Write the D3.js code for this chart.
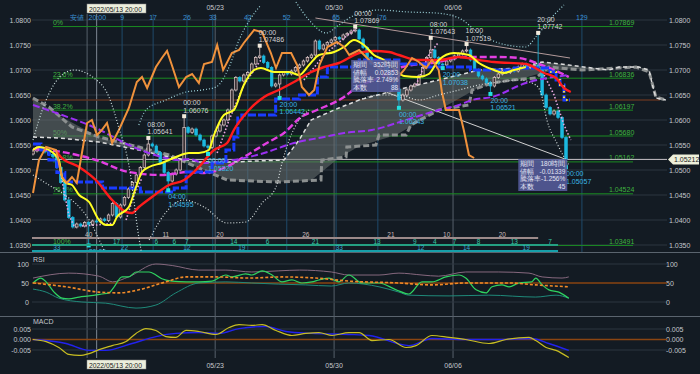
<!DOCTYPE html>
<html>
<head>
<meta charset="utf-8">
<script src="https://cdn.jsdelivr.net/npm/d3@7"></script>
<style>
  body { margin: 0; background: #131b23; }
  svg { display: block; font-family: "Liberation Sans", Arial, sans-serif; }
</style>
</head>
<body>
<svg id="chart" width="700" height="374"></svg>
<script>
// ---- data (candle index, price) ----
const closes = [
  1.0538,1.0545,1.0541,1.0536,1.0531,1.0527,1.0505,1.0475,1.0440,1.0405,
  1.0386,1.0392,1.0388,1.0395,1.0391,1.0398,1.0396,1.0402,1.0399,1.0410,
  1.0433,1.0406,1.0430,1.0445,1.0462,1.0475,1.0490,1.0505,1.0530,1.0552,
  1.0548,1.0535,1.0515,1.0495,1.0478,1.0492,1.0500,1.0520,1.0585,1.0575,
  1.0582,1.0570,1.0560,1.0548,1.0545,1.0568,1.0578,1.0590,1.0600,1.0620,
  1.0660,1.0685,1.0678,1.0690,1.0695,1.0712,1.0725,1.0728,1.0715,1.0705,
  1.0668,1.0672,1.0690,1.0695,1.0692,1.0698,1.0705,1.0710,1.0718,1.0725,
  1.0730,1.0758,1.0742,1.0750,1.0755,1.0760,1.0765,1.0762,1.0770,1.0773,
  1.0778,1.0780,1.0762,1.0745,1.0725,1.0712,1.0708,1.0700,1.0705,1.0695,
  1.0680,1.0662,1.0640,1.0650,1.0660,1.0668,1.0672,1.0688,1.0705,1.0725,
  1.0740,1.0725,1.0712,1.0710,1.0718,1.0722,1.0728,1.0732,1.0738,1.0740,
  1.0720,1.0700,1.0688,1.0682,1.0675,1.0668,1.0685,1.0692,1.0698,1.0695,
  1.0700,1.0698,1.0706,1.0712,1.0705,1.0708,1.0710,1.0705,1.0650,1.0625,
  1.0612,1.0618,1.0605,1.0565,1.0521
];
const firstOpen = 1.0532;
const lastPrice = 1.05212;

// labelled swing highs / lows
const swings = [
  {i:14, kind:"L", time:"20:00", p:1.03491},
  {i:29, kind:"H", time:"08:00", p:1.05641},
  {i:34, kind:"L", time:"04:00", p:1.04595},
  {i:38, kind:"H", time:"00:00", p:1.06076},
  {i:44, kind:"L", time:"00:00", p:1.05320},
  {i:57, kind:"H", time:"00:00", p:1.07486},
  {i:62, kind:"L", time:"20:00", p:1.06442},
  {i:81, kind:"H", time:"00:00", p:1.07869},
  {i:92, kind:"L", time:"00:00", p:1.06243},
  {i:100, kind:"H", time:"08:00", p:1.07643},
  {i:103, kind:"L", time:"20:00", p:1.07038},
  {i:109, kind:"H", time:"16:00", p:1.07519},
  {i:115, kind:"L", time:"20:00", p:1.06521},
  {i:127, kind:"H", time:"20:00", p:1.07742},
  {i:134, kind:"L", time:"00:00", p:1.05057}
];

const yellowMA = [[0,1.0540],[1.5,1.0546],[4,1.0540],[6.5,1.0520],[7.3,1.0486],[8.3,1.0474],[9.8,1.0470],[11.6,1.0450],[14.1,1.0436],[16.6,1.0400],[18.4,1.0390],[19.9,1.0390],[21.1,1.0406],[24.1,1.0426],[25.9,1.0466],[27.4,1.0496],[29.2,1.0506],[32.4,1.0514],[35.9,1.0526],[39.2,1.0534],[41.7,1.0534],[44.2,1.0540],[45.5,1.0570],[48,1.0610],[50.5,1.0620],[53,1.0670],[55.6,1.0700],[57.3,1.0704],[60.6,1.0696],[64.4,1.0696],[66.9,1.0690],[69.4,1.0710],[71.9,1.0730],[75.7,1.0736],[78.2,1.0746],[80.7,1.0760],[83.2,1.0750],[85.7,1.0730],[88.2,1.0720],[90.7,1.0704],[93.3,1.0688],[97,1.0686],[99.5,1.0692],[102,1.0720],[105.8,1.0734],[109.6,1.0730],[112.1,1.0714],[115.9,1.0700],[118.4,1.0694],[120.9,1.0700],[123.9,1.0706]];
const redMA = [[6,1.0536],[7,1.0526],[11.6,1.0506],[15.8,1.0480],[19.9,1.0440],[23.4,1.0416],[24.9,1.0414],[26.6,1.0426],[29.9,1.0446],[34.2,1.0470],[38,1.0480],[41.7,1.0506],[45.5,1.0540],[48.8,1.0554],[50.5,1.0580],[54.3,1.0620],[58.1,1.0646],[61.8,1.0660],[65.6,1.0676],[69.4,1.0694],[73.2,1.0706],[76.9,1.0714],[82,1.0734],[85.7,1.0738],[89.5,1.0736],[92,1.0730],[97,1.0720],[102,1.0720],[107.1,1.0726],[112.1,1.0720],[115.9,1.0716],[123.9,1.0712],[128.5,1.0694],[131.5,1.0684],[133.5,1.0664],[135.2,1.0656]];
const magentaMA = [[0,1.0542],[7.3,1.0536],[15.8,1.0520],[24.1,1.0496],[32.4,1.0490],[39.2,1.0496],[43,1.0494],[48,1.0504],[53,1.0526],[58.8,1.0554],[63.1,1.0574],[67.4,1.0606],[71.4,1.0620],[78.2,1.0646],[81.2,1.0664],[87,1.0684],[92.8,1.0706],[102,1.0716],[107.8,1.0726],[117.1,1.0726],[122.2,1.0724],[127.2,1.0712],[131,1.0700],[134.7,1.0686]];
const purpleMA = [[0,1.0630],[7.3,1.0610],[15.8,1.0584],[24.1,1.0550],[28.4,1.0536],[32.4,1.0526],[36.7,1.0520],[39.2,1.0522],[43,1.0514],[50.5,1.0520],[58.1,1.0534],[65.6,1.0554],[73.2,1.0566],[78.2,1.0574],[85.2,1.0580],[93.8,1.0600],[102,1.0620],[107.1,1.0630],[110.4,1.0640],[115.4,1.0646],[123.9,1.0674],[134.7,1.0690]];
const blueBase = [[0,1.0552],[2,1.0540],[4,1.0520],[6,1.0495],[8,1.0476],[17.5,1.0464],[27,1.0456],[35.5,1.0464],[38.5,1.0496],[45,1.0514],[48.5,1.0540],[50.5,1.0566],[51.5,1.0604],[52.5,1.0610],[61,1.0642],[67,1.0650],[71.5,1.0686],[74,1.0706],[82,1.0720],[92,1.0712],[99.5,1.0706],[110,1.0700],[121,1.0704],[130,1.0696],[131.5,1.0680],[132.5,1.0670],[133.5,1.0640],[135,1.0640]];
const lagging = [[0,1.0454],[0.8,1.0490],[1.5,1.0520],[3.3,1.0546],[5.8,1.0540],[7.3,1.0486],[8.5,1.0474],[9.8,1.0486],[11,1.0474],[12.3,1.0534],[13.6,1.0594],[14.8,1.0600],[16.1,1.0570],[17.3,1.0580],[18.6,1.0594],[19.9,1.0554],[21.6,1.0580],[24.1,1.0624],[26.1,1.0676],[27.4,1.0686],[28.7,1.0664],[30.9,1.0706],[32.4,1.0724],[33.7,1.0738],[34.9,1.0710],[36.7,1.0666],[38.5,1.0686],[40,1.0692],[41.7,1.0674],[43,1.0712],[45,1.0716],[46.3,1.0750],[47.8,1.0700],[50,1.0734],[51.8,1.0740],[53,1.0754],[55.6,1.0780],[57.6,1.0776],[59.8,1.0734],[61.1,1.0704],[62.6,1.0734],[64.9,1.0734],[66.4,1.0710],[67.6,1.0666],[69.4,1.0650],[70.7,1.0660],[72,1.0710],[74,1.0746],[76.4,1.0756],[78.2,1.0746],[79.5,1.0730],[82,1.0740],[85,1.0716],[88.2,1.0696],[90.7,1.0676],[93.3,1.0700],[95.3,1.0724],[97,1.0716],[98.8,1.0704],[100.3,1.0720],[102,1.0700],[102.8,1.0656],[103.8,1.0620],[107.1,1.0620],[108.3,1.0580],[109.6,1.0530],[110.9,1.0524]];
const spanA = [[0,1.0566],[6.5,1.0564],[16.6,1.0556],[26.6,1.0540],[34.2,1.0526],[41.7,1.0516],[49.8,1.0516],[63.1,1.0520],[66.9,1.0560],[69.9,1.0600],[76.9,1.0624],[82,1.0640],[91.3,1.0660],[102,1.0680],[112.1,1.0700],[122.2,1.0704],[128,1.0716],[134.7,1.0710],[140.5,1.0704],[144.8,1.0700],[147.3,1.0706],[152.3,1.0706],[154.9,1.0700],[155.6,1.0674],[156.6,1.0644],[159.1,1.0640]];
const spanB = [[0,1.0644],[4,1.0626],[9.8,1.0586],[16.6,1.0566],[26.6,1.0546],[34.2,1.0530],[41.7,1.0504],[48.8,1.0480],[61.8,1.0476],[72.4,1.0480],[72.6,1.0520],[78.7,1.0526],[78.9,1.0546],[86.2,1.0550],[87,1.0570],[93.8,1.0570],[95,1.0590],[102,1.0620],[109.6,1.0630],[110.4,1.0660],[115.4,1.0674],[120.4,1.0680],[126.4,1.0684],[129.7,1.0706],[138,1.0700],[151.6,1.0706],[154.9,1.0696],[156.6,1.0646],[159.1,1.0640]];

// dotted band lines, read piece by piece
const bandArc = [[0,1.0560],[2.8,1.0630],[6.5,1.0684],[10.3,1.0700],[15.3,1.0684],[19.1,1.0646],[21.6,1.0584],[24.1,1.0510],[26.6,1.0366],[27.7,1.0316]];
const bandRise = [[26.6,1.0590],[28.4,1.0620],[33.4,1.0640],[38.5,1.0656],[42.5,1.0660],[46,1.0666],[49.3,1.0706],[51.8,1.0760],[54.8,1.0804],[57.3,1.0830]];
const bandLowLeft = [[0,1.0490],[4,1.0470],[7.3,1.0454],[14.1,1.0400],[17.8,1.0340]];
const bandLowMid = [[29.2,1.0360],[32.9,1.0410],[37.9,1.0440],[43,1.0426],[48.8,1.0394],[53.5,1.0396],[57.6,1.0434],[61.1,1.0466],[62.6,1.0514],[64.4,1.0560],[66.9,1.0600],[69.4,1.0620]];
const bandTopRight = [[66.1,1.0836],[69.4,1.0800],[73.7,1.0774],[76.9,1.0790],[80.9,1.0810],[87,1.0820],[94.5,1.0816],[101.3,1.0814],[107.1,1.0804],[112.1,1.0774],[117.1,1.0754],[123.9,1.0746],[126.4,1.0766],[130.5,1.0806],[133.5,1.0830]];
const bandLowRight = [[82,1.0640],[87,1.0650],[92,1.0650],[97,1.0640],[102,1.0650],[107.1,1.0660],[112.1,1.0670],[117.1,1.0676],[122.2,1.0680],[126.4,1.0670],[127.7,1.0654],[129.2,1.0600],[131.7,1.0554],[133.5,1.0526],[134.7,1.0510]];

// parabolic stop-and-reverse runs
const sarRuns = [
  [[6.5,1.0520],[7.5,1.0470],[9,1.0410],[10.6,1.0384]],
  [[12.3,1.0388],[16,1.0390],[20.9,1.0394]],
  [[23.4,1.0400],[25.4,1.0450],[27.4,1.0484]],
  [[46.3,1.0534],[49.3,1.0600],[53,1.0670],[57.3,1.0720]],
  [[68.1,1.0680],[73.2,1.0730],[78.2,1.0764],[81.4,1.0784]],
  [[96.3,1.0670],[99.5,1.0730],[102,1.0756]],
  [[128.5,1.0690],[131,1.0650],[133.5,1.0590],[135.2,1.0560]]
];

const fibPct = ["0%","23.6%","38.2%","50%","61.8%","76.4%","100%"];
const fibPrice = [1.07869,1.06836,1.06197,1.05680,1.05162,1.04524,1.03491];
const priceTicks = [1.035,1.040,1.045,1.050,1.055,1.060,1.065,1.070,1.075,1.080];

const dateTicks = [[45.8,"05/23"],[75.7,"05/30"],[105.6,"06/06"]];
const cursorIdx = 16, cursorText = "2022/05/13 20:00";
const lowLineIdx = 13.6;
const countIdx = [22.4,30.2,38.7,45.2,54,63.8,76.2,86.7,138];
const countText = ["9","17","26","33","42","52","65","76","129"];

// wave count rows at the bottom of the price panel
const rowEnd = [127,132,132];
const row1 = [[14,"40"],[33.4,"11"],[47,"20"],[68.6,"26"],[90,"21"],[104,"10"],[118,"20"]];
const row2 = [[21,"17"],[31,"6"],[35.5,"6"],[38.7,"7"],[50.5,"14"],[59,"6"],[71,"21"],[86.5,"13"],[96,"9"],[101,"4"],[106,"7"],[112,"8"],[121,"13"],[130,"7"]];
const row3 = [[6,"33"],[23,"22"],[38.7,"12"],[52.5,"19"],[77,"33"],[97.5,"12"],[109,"14"],[124,"19"]];

const box1 = {i:80, p:1.0720, rows:[["期間","352時間"],["値幅","0.02853"],["騰落率","2.749%"],["本数","88"]]};
const box2 = {i:122, p:1.0522, rows:[["期間","180時間"],["値幅","-0.01339"],["騰落率","-1.256%"],["本数","45"]]};
const measureLine = [[89,1.0655],[134,1.05212]];
const trendLine = [[71,1.0804],[135,1.0724]];
const brownLevel = 1.0640;

// RSI panel
const rsiLine = [[0,50],[2,63],[3.3,53],[5.3,26],[7.3,10],[9,8],[11.6,13],[14.1,16],[17.3,21],[19.1,24],[20.4,40],[22.4,66],[24.1,66],[25.9,79],[29.2,79],[30.9,71],[32.4,61],[34.9,55],[38.5,53],[41.7,53],[45,55],[48.5,71],[50,66],[53.5,74],[55,71],[57.6,82],[60.1,71],[62.6,53],[65.1,58],[67.6,50],[70.1,53],[71.9,58],[74.4,63],[76.9,53],[79.4,71],[82.7,50],[87,50],[91.3,32],[94.5,21],[97.8,53],[100.3,53],[103.8,66],[107.1,71],[108.8,63],[111.4,32],[113.9,24],[115.4,40],[117.9,45],[119.7,40],[122.2,50],[125.4,53],[126.4,63],[128,45],[129.7,32],[132.2,26],[134.7,10]];
const rsiUpper = [[0,63],[9,76],[16.6,68],[20,53],[24,66],[30.9,100],[35,96],[41.7,84],[48.5,84],[55,79],[61.8,82],[67,84],[75,79],[79.4,71],[87,71],[92,76],[97.8,71],[102,68],[108.8,79],[117.1,79],[124.7,76],[128,66],[133,63],[134.7,66]];
const rsiLower = [[0,34],[3.3,26],[6.5,10],[12.3,0],[18.3,-3],[25.9,-16],[30.9,-8],[35.9,24],[41.7,50],[48.5,53],[55,50],[61.8,47],[68.6,45],[75,42],[79.4,50],[87,40],[92,26],[94.5,18],[104.6,16],[114.6,18],[126.4,13],[131.5,18],[134.7,10]];
const rsiSignal = [[0,50],[8.3,40],[16.6,26],[21.6,24],[26.6,32],[33.4,53],[38.5,66],[46,66],[54.3,63],[62.6,66],[71.1,63],[79.4,55],[92,50],[100.3,45],[108.8,50],[119.7,50],[126.4,45],[134.7,40]];

// MACD panel
const macdLine = [[0,0],[3.3,-0.0010],[6.5,-0.0038],[9,-0.0071],[11.6,-0.0076],[14.1,-0.0067],[16.6,-0.0048],[19.9,-0.0029],[23.4,-0.0010],[25.9,0.0029],[28.4,0.0052],[30.9,0.0043],[33.4,0.0014],[35.9,0.0010],[38.5,0.0043],[41.7,0.0038],[46,0.0024],[49.3,0.0057],[51.8,0.0071],[55,0.0067],[57.6,0.0071],[61.1,0.0043],[65.1,0.0019],[68.6,0.0029],[71.9,0.0033],[75.2,0.0019],[79.4,0.0033],[82,0.0033],[85.2,-0.0005],[89.5,0],[93.8,-0.0038],[96.3,-0.0029],[100.3,0.0019],[104.6,0.0010],[108.8,0],[114.6,-0.0019],[118.9,0],[124.7,0.0010],[126.4,-0.0005],[129,-0.0038],[131.5,-0.0052],[134.7,-0.0086]];
const macdSignal = [[0,0],[8.3,-0.0019],[14.1,-0.0052],[18.3,-0.0052],[24.9,-0.0019],[30.9,0.0014],[35.9,0.0029],[41.7,0.0033],[46.8,0.0029],[51.8,0.0052],[58.6,0.0062],[63.6,0.0038],[70.1,0.0029],[79.4,0.0024],[84.5,0.0019],[94.5,-0.0029],[100.3,0.0005],[108.8,0],[117.1,0],[125.4,0.0005],[129.7,-0.0019],[134.7,-0.0052]];

// ---- drawing ----
const svg = d3.select("#chart");
const x = d3.scaleLinear().domain([0, 134]).range([33, 566]);
const y = d3.scaleLinear().domain([1.035, 1.080]).range([245, 20]);
const yR = d3.scaleLinear().domain([0, 100]).range([302, 264]);
const yM = d3.scaleLinear().domain([-0.005, 0.005]).range([350, 329]);
const L = 32, R = 667;

svg.append("rect").attr("width", 700).attr("height", 374).attr("fill", "#131b23");
const defs = svg.append("defs");
defs.append("clipPath").attr("id", "clipMain").append("rect").attr("x", L).attr("y", 15).attr("width", R - L).attr("height", 237);
defs.append("clipPath").attr("id", "clipTall").append("rect").attr("x", L).attr("y", 0).attr("width", R - L).attr("height", 252);
defs.append("clipPath").attr("id", "clipRsi").append("rect").attr("x", L).attr("y", 253).attr("width", R - L).attr("height", 63);
defs.append("clipPath").attr("id", "clipMacd").append("rect").attr("x", L).attr("y", 317).attr("width", R - L).attr("height", 42);

const txt = (g, tx, ty, s, fill, anchor, size) => g.append("text").attr("x", tx).attr("y", ty)
  .attr("fill", fill).attr("font-size", size || 7).attr("text-anchor", anchor || "start").text(s);

// separators
[252.5, 316.5].forEach(v => svg.append("line").attr("x1", 0).attr("x2", 700).attr("y1", v).attr("y2", v).attr("stroke", "#5a646e"));

// price grid + axes
const grid = svg.append("g");
priceTicks.forEach(p => {
  grid.append("line").attr("x1", L).attr("x2", R).attr("y1", y(p)).attr("y2", y(p)).attr("stroke", "#2c3741");
  txt(grid, 31, y(p) + 2.5, p.toFixed(4), "#c4c8cc", "end");
  txt(grid, 669, y(p) + 2.5, p.toFixed(4), "#c4c8cc");
});

// vertical lines
dateTicks.forEach(([i, s]) => {
  svg.append("line").attr("x1", x(i)).attr("x2", x(i)).attr("y1", 14).attr("y2", 358).attr("stroke", "#56616b");
  txt(svg, x(i), 10, s, "#c4c8cc", "middle");
  txt(svg, x(i), 368, s, "#c4c8cc", "middle");
});
svg.append("line").attr("x1", x(lowLineIdx)).attr("x2", x(lowLineIdx)).attr("y1", 14).attr("y2", 358).attr("stroke", "#56616b");
svg.append("line").attr("x1", x(cursorIdx)).attr("x2", x(cursorIdx)).attr("y1", 14).attr("y2", 358).attr("stroke", "#7d8892");
countIdx.forEach((i, k) => {
  svg.append("line").attr("x1", x(i)).attr("x2", x(i)).attr("y1", 14).attr("y2", 252).attr("stroke", "#1f4a6b");
  txt(svg, x(i) + (k === 7 ? 5 : 0), 19.5, countText[k], "#3a8fd0", "middle");
});
txt(svg, x(lowLineIdx) - 3, 19.5, "安値", "#3a8fd0", "end");
txt(svg, x(lowLineIdx) + 1.5, 19.5, "20:00", "#3a8fd0");

const main = svg.append("g").attr("clip-path", "url(#clipMain)");
const tall = svg.append("g").attr("clip-path", "url(#clipTall)");

// fibonacci retracement
fibPrice.forEach((p, k) => {
  main.append("line").attr("x1", x(5)).attr("x2", 633).attr("y1", y(p)).attr("y2", y(p)).attr("stroke", "#1b8c22");
  txt(main, x(5), y(p) - 1.5, fibPct[k], "#3fb23f");
  txt(main, 609, y(p) - 1.5, p.toFixed(5), "#3fb23f");
});
main.append("line").attr("x1", L).attr("x2", 660).attr("y1", y(brownLevel)).attr("y2", y(brownLevel)).attr("stroke", "#5c3322").attr("stroke-width", 1.5);
main.append("line").attr("x1", L).attr("x2", R).attr("y1", y(lastPrice)).attr("y2", y(lastPrice)).attr("stroke", "#c9c3c9");

const ln = (curve) => d3.line().x(d => x(d[0])).y(d => y(d[1])).curve(curve || d3.curveMonotoneX);

// cloud
const area = d3.area().x(d => x(d[0])).y0(d => y(d[1])).y1(d => y(d[2]));
const spanBAt = d3.scaleLinear().domain(spanB.map(b => b[0])).range(spanB.map(b => b[1]));
const cloud = spanA.map(d => [d[0], d[1], spanBAt(d[0])]);
main.append("path").datum(cloud).attr("d", area).attr("fill", "#6c7373").attr("opacity", 0.55);
main.append("path").datum(spanB).attr("d", ln(d3.curveLinear)).attr("fill", "none").attr("stroke", "#8c9090").attr("stroke-width", 3).attr("stroke-dasharray", "6,3");
main.append("path").datum(spanA).attr("d", ln(d3.curveLinear)).attr("fill", "none").attr("stroke", "#dcdcdc").attr("stroke-width", 1.5).attr("stroke-dasharray", "4,3");

// dotted bands
[[bandArc, "#cfe2e2"], [bandRise, "#9fd6dc"], [bandLowLeft, "#d6dede"], [bandLowMid, "#d6dede"], [bandTopRight, "#9fd6dc"], [bandLowRight, "#d6dede"]]
  .forEach(([b, c]) => tall.append("path").datum(b).attr("d", ln()).attr("fill", "none")
    .attr("stroke", c).attr("stroke-width", 1.2).attr("stroke-dasharray", "1,2"));

// trend + measure lines
main.append("path").datum(trendLine).attr("d", ln(d3.curveLinear)).attr("stroke", "#b39a9a").attr("fill", "none");
main.append("path").datum(measureLine).attr("d", ln(d3.curveLinear)).attr("stroke", "#d0d0d0").attr("fill", "none");

// candles
const bw = 2.6;
const hiMap = {}, loMap = {};
swings.forEach(s => { if (s.kind === "H") hiMap[s.i] = s.p; else loMap[s.i] = s.p; });
const cg = main.append("g");
closes.forEach((c, i) => {
  const o = i ? closes[i - 1] : firstOpen;
  const up = c >= o;
  const hi = hiMap[i] || Math.max(o, c) + 0.0003;
  const lo = loMap[i] || Math.min(o, c) - 0.0003;
  const col = up ? "#e2cccc" : "#1cb9e0";
  cg.append("line").attr("x1", x(i)).attr("x2", x(i)).attr("y1", y(hi)).attr("y2", y(lo)).attr("stroke", col).attr("stroke-width", 0.8);
  cg.append("rect").attr("x", x(i) - bw / 2).attr("y", y(Math.max(o, c)))
    .attr("width", bw).attr("height", Math.max(1, Math.abs(y(o) - y(c))))
    .attr("fill", up ? "#3a3034" : "#1cb9e0").attr("stroke", col).attr("stroke-width", 0.7);
});

// parabolic runs
sarRuns.forEach(run => main.append("path").datum(run).attr("d", ln(d3.curveLinear)).attr("fill", "none")
  .attr("stroke", "#eaa8e0").attr("stroke-width", 1.6).attr("stroke-dasharray", "1.5,2"));

// moving averages / lagging line
main.append("path").datum(magentaMA).attr("d", ln()).attr("fill", "none").attr("stroke", "#e23fe2").attr("stroke-width", 2.4).attr("stroke-dasharray", "7,3");
main.append("path").datum(purpleMA).attr("d", ln()).attr("fill", "none").attr("stroke", "#9a30f2").attr("stroke-width", 2).attr("stroke-dasharray", "7,3");
main.append("path").datum(blueBase).attr("d", ln(d3.curveStepAfter)).attr("fill", "none").attr("stroke", "#1a3cff").attr("stroke-width", 3).attr("stroke-dasharray", "8,2");
main.append("path").datum(blueBase.filter(d => d[0] >= 130)).attr("d", ln(d3.curveStepAfter)).attr("fill", "none")
  .attr("stroke", "#f4e23a").attr("stroke-width", 2).attr("stroke-dasharray", "1.5,4");
main.append("path").datum(redMA).attr("d", ln()).attr("fill", "none").attr("stroke", "#ff1c1c").attr("stroke-width", 2.4);
main.append("path").datum(yellowMA).attr("d", ln()).attr("fill", "none").attr("stroke", "#ffff22").attr("stroke-width", 2);
main.append("path").datum(lagging).attr("d", ln(d3.curveLinear)).attr("fill", "none").attr("stroke", "#f0923c").attr("stroke-width", 2);

// swing markers
swings.forEach(s => {
  const sx = x(s.i), sy = y(s.p);
  if (s.kind === "H") {
    tall.append("rect").attr("x", sx - 2).attr("y", sy - 2).attr("width", 4).attr("height", 4).attr("fill", "#f2eadc");
    txt(tall, sx - 1, sy - 11, s.time, "#d2d2d2");
    txt(tall, sx - 1, sy - 3.5, s.p.toFixed(5), "#d2d2d2");
  } else {
    main.append("rect").attr("x", sx - 2).attr("y", sy - 2).attr("width", 4).attr("height", 4).attr("fill", "#22e0e0");
    txt(main, sx, sy + 9, s.time, "#3cb6e2");
    txt(main, sx, sy + 16.5, s.p.toFixed(5), "#3cb6e2");
  }
});

// wave count rows
const rowY = [238, 245, 251], rowCol = ["#9c8a8a", "#24a082", "#16a0aa"], rowTxt = ["#c8b8b8", "#38c8a8", "#38aed0"];
[row1, row2, row3].forEach((row, k) => {
  main.append("line").attr("x1", L).attr("x2", x(rowEnd[k])).attr("y1", rowY[k]).attr("y2", rowY[k]).attr("stroke", rowCol[k]).attr("stroke-width", 2);
  row.forEach(([i, s]) => txt(main, x(i), rowY[k] - 1.5, s, rowTxt[k], "middle", 6.5));
});

// measurement boxes
[box1, box2].forEach(b => {
  const bx = x(b.i), by = y(b.p);
  const g = svg.append("g");
  g.append("rect").attr("x", bx).attr("y", by).attr("width", 49).attr("height", 32).attr("fill", "#565c9c").attr("opacity", 0.88);
  b.rows.forEach((r, k) => {
    txt(g, bx + 2, by + 7 + k * 7.6, r[0], "#e4e4f4", "start", 6.5);
    txt(g, bx + 47, by + 7 + k * 7.6, r[1], "#e4e4f4", "end", 6.5);
  });
});

// current price tag
const py = y(lastPrice);
svg.append("path").attr("d", `M668,${py} L673,${py - 5} L699,${py - 5} L699,${py + 5} L673,${py + 5} Z`).attr("fill", "#eef0da");
txt(svg, 674, py + 2.5, lastPrice.toFixed(5), "#1a1a1a");

// cursor time boxes
[[4, 11.5], [360, 367.5]].forEach(([ty, tb]) => {
  svg.append("rect").attr("x", 87).attr("y", ty).attr("width", 59).attr("height", 9).attr("fill", "#eceedc").attr("stroke", "#8a8a8a").attr("stroke-width", 0.5);
  txt(svg, 89, tb, cursorText, "#1a1a1a", "start", 6.8);
});

// RSI panel
const rsi = svg.append("g");
txt(rsi, 33, 262, "RSI", "#c4c8cc");
[100, 0].forEach(v => rsi.append("line").attr("x1", L).attr("x2", R).attr("y1", yR(v)).attr("y2", yR(v)).attr("stroke", "#2c3741"));
[100, 50, 0].forEach(v => { txt(rsi, 29, yR(v) + 2.5, v, "#c4c8cc", "end"); txt(rsi, 666, yR(v) + 2.5, v, "#c4c8cc"); });
const rsiG = rsi.append("g").attr("clip-path", "url(#clipRsi)");
rsiG.append("line").attr("x1", L).attr("x2", R).attr("y1", yR(50)).attr("y2", yR(50)).attr("stroke", "#8a4512").attr("stroke-width", 1.5);
const lnR = d3.line().x(d => x(d[0])).y(d => yR(d[1])).curve(d3.curveMonotoneX);
rsiG.append("path").datum(rsiUpper).attr("d", lnR).attr("fill", "none").attr("stroke", "#86687e");
rsiG.append("path").datum(rsiLower).attr("d", lnR).attr("fill", "none").attr("stroke", "#1f8a7a");
rsiG.append("path").datum(rsiLine).attr("d", lnR).attr("fill", "none").attr("stroke", "#2fd460").attr("stroke-width", 1.2);
rsiG.append("path").datum(rsiSignal).attr("d", lnR).attr("fill", "none").attr("stroke", "#f08a28").attr("stroke-width", 1.6).attr("stroke-dasharray", "3,2");

// MACD panel
const macd = svg.append("g");
txt(macd, 33, 324, "MACD", "#c4c8cc");
[0.005, -0.005].forEach(v => macd.append("line").attr("x1", L).attr("x2", R).attr("y1", yM(v)).attr("y2", yM(v)).attr("stroke", "#2c3741"));
[0.005, 0, -0.005].forEach(v => { txt(macd, 31, yM(v) + 2.5, v.toFixed(3), "#c4c8cc", "end"); txt(macd, 666, yM(v) + 2.5, v.toFixed(3), "#c4c8cc"); });
const macdG = macd.append("g").attr("clip-path", "url(#clipMacd)");
macdG.append("line").attr("x1", L).attr("x2", R).attr("y1", yM(0)).attr("y2", yM(0)).attr("stroke", "#8a4512").attr("stroke-width", 1.5);
const lnM = d3.line().x(d => x(d[0])).y(d => yM(d[1])).curve(d3.curveMonotoneX);
macdG.append("path").datum(macdSignal).attr("d", lnM).attr("fill", "none").attr("stroke", "#2222ee").attr("stroke-width", 1.4);
macdG.append("path").datum(macdLine).attr("d", lnM).attr("fill", "none").attr("stroke", "#c8bd22").attr("stroke-width", 1.2);
</script>
</body>
</html>
